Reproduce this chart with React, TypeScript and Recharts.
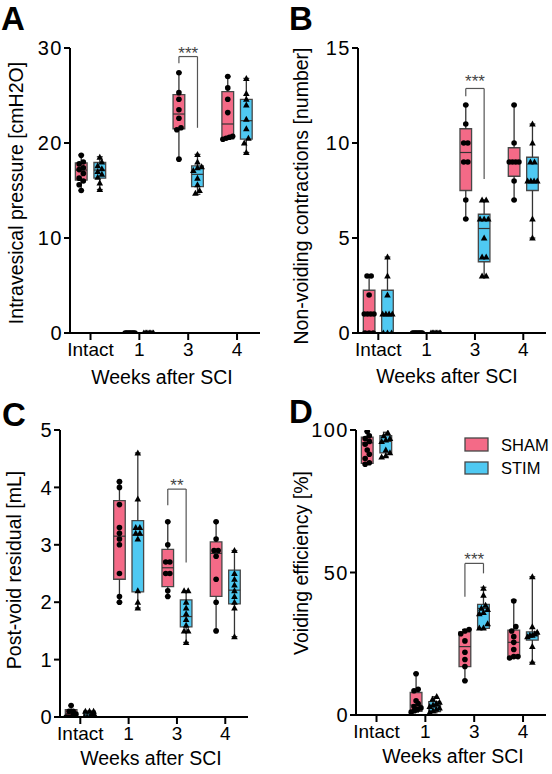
import React from 'react';
import { ScatterChart, Scatter, XAxis, YAxis, ReferenceArea, ReferenceLine, ReferenceDot } from 'recharts';

const FONT = '"Liberation Sans", Arial, Helvetica, sans-serif';
const SHAM_FILL = '#F46A87';
const STIM_FILL = '#4FC9F2';
const BOX_STROKE = '#474747';
const WHISKER = '#333333';

const CATEGORIES = ['Intact', '1', '3', '4'];

// box stats per category: [min, q1, median, q3, max]
const PRESSURE_SHAM_BOX = [[15.0, 16.1, 17.15, 17.9, 18.75], [0, 0, 0, 0, 0], [18.3, 21.5, 23.05, 25.1, 27.4], [20.4, 20.45, 22.0, 25.4, 27.0]];
const PRESSURE_STIM_BOX = [[15.1, 16.3, 17.15, 17.95, 18.55], [0, 0, 0, 0, 0], [14.6, 15.4, 16.7, 17.6, 18.8], [19.0, 20.4, 22.35, 24.6, 26.8]];
const PRESSURE_SHAM_PTS = [[18.7, 18.0, 17.8, 17.4, 17.2, 16.8, 16.3, 16.0, 15.6, 15.0], [0, 0, 0, 0, 0, 0, 0, 0], [27.4, 25.3, 24.6, 23.5, 22.6, 21.6, 21.4, 18.3], [27.0, 25.8, 24.6, 23.2, 20.7, 20.6, 20.5, 20.4]];
const PRESSURE_STIM_PTS = [[18.5, 18.0, 17.6, 17.3, 17.0, 16.7, 16.4, 15.8, 15.1], [0, 0, 0, 0, 0, 0, 0, 0], [18.8, 18.0, 17.5, 17.4, 17.1, 16.3, 15.6, 15.0, 14.7], [26.8, 25.2, 24.6, 24.0, 22.5, 21.5, 20.5, 20.0, 19.0]];
const PRESSURE_BRACKET = [29.1, 28.4, 21.6, 29.8]; // top, left end, right end, stars

const NVC_SHAM_BOX = [[0, 0, 1, 2.25, 3], [0, 0, 0, 0, 0], [6, 7.5, 9.5, 10.75, 12], [7, 8.25, 9, 9.75, 12]];
const NVC_STIM_BOX = [[0, 0, 1, 2.25, 4], [0, 0, 0, 0, 0], [3, 3.75, 5.5, 6.25, 7], [5, 7.5, 8, 9.25, 11]];
const NVC_SHAM_PTS = [[3, 3, 2, 1, 1, 1, 1, 0, 0, 0], [0, 0, 0, 0, 0, 0, 0, 0], [12, 11, 10, 10, 9, 9, 7, 6], [12, 10, 9, 9, 9, 9, 8, 7]];
const NVC_STIM_PTS = [[4, 3, 2, 1, 1, 1, 1, 0, 0, 0], [0, 0, 0, 0, 0, 0, 0, 0], [7, 7, 6, 6, 6, 5, 4, 4, 3, 3], [11, 10, 9, 9, 8, 8, 8, 8, 6, 5]];
const NVC_BRACKET = [12.87, 12.46, 8.1, 13.45];

const PVR_SHAM_BOX = [[0, 0, 0.06, 0.13, 0.2], [2.0, 2.4, 3.15, 3.77, 4.1], [2.1, 2.27, 2.6, 2.92, 3.4], [1.5, 2.1, 2.85, 3.05, 3.4]];
const PVR_STIM_BOX = [[0, 0, 0.05, 0.1, 0.1], [1.9, 2.18, 3.17, 3.42, 4.6], [1.3, 1.57, 1.75, 2.04, 2.2], [1.4, 1.97, 2.21, 2.56, 2.9]];
const PVR_SHAM_PTS = [[0.2, 0.1, 0.1, 0.05, 0.05, 0, 0, 0], [4.1, 4.0, 3.7, 3.3, 3.2, 3.1, 3.0, 2.5, 2.1, 2.0], [3.4, 3.0, 2.7, 2.7, 2.5, 2.5, 2.2, 2.1], [3.4, 3.1, 2.9, 2.9, 2.8, 2.4, 2.0, 1.5]];
const PVR_STIM_PTS = [[0.1, 0.1, 0.1, 0.05, 0.05, 0, 0, 0], [4.6, 3.8, 3.3, 3.3, 3.2, 3.2, 3.1, 2.2, 2.0, 1.9], [2.2, 2.2, 2.0, 1.9, 1.8, 1.7, 1.6, 1.5, 1.5, 1.3], [2.9, 2.5, 2.4, 2.3, 2.2, 2.1, 2.0, 1.9, 1.4]];
const PVR_BRACKET = [3.97, 3.69, 2.69, 4.1];

const VE_SHAM_BOX = [[88, 88.3, 95.5, 97.5, 99.5], [1.0, 1.3, 3.5, 7.9, 14.5], [12, 17, 24, 29.2, 30], [20, 20.3, 25.5, 29.8, 40.3]];
const VE_STIM_BOX = [[90.6, 92, 96, 98, 99.2], [0.8, 1.2, 2.9, 4.7, 6.4], [30.2, 30.4, 37.4, 38.8, 44.8], [18.5, 26.3, 27.8, 29.2, 48.5]];
const VE_SHAM_PTS = [[99.5, 98, 97, 96, 95, 93, 91.5, 90, 88.5, 88], [14.5, 9, 8.5, 5, 4, 3, 2.5, 2, 1.5, 1], [30, 29.5, 28.5, 26, 22, 19.5, 17, 12], [40, 31, 29.5, 27.5, 25.5, 23, 20.5, 20.5, 20]];
const VE_STIM_PTS = [[99, 98, 97, 96.5, 96, 93, 92, 91, 90.5], [6.5, 5.5, 4.5, 4, 3.5, 3, 2.5, 2, 1.5, 1], [44.5, 42, 38.5, 37.5, 37, 36, 35.5, 32, 30.5, 30.5], [48.5, 31, 29, 28.5, 28, 28, 27.5, 24, 18.5]];
const VE_BRACKET = [53.2, 41.5, 49.7, 56.1];

const X_DOMAIN: [number, number] = [-0.42, 3.47];
const OFFSET = 0.19;
const BOX_W = 0.24;
const CAP_W = 0.12;

// spread near-equal values sideways so they don't sit on top of each other
function spread(groups: number[][], sign: number, yMax: number) {
  const out: { x: number; y: number }[] = [];
  const tol = yMax * 0.018;
  groups.forEach((vals, ci) => {
    const cx = ci + sign * OFFSET;
    const sorted = [...vals].sort((a, b) => a - b);
    let i = 0;
    while (i < sorted.length) {
      let j = i;
      while (j + 1 < sorted.length && sorted[j + 1] - sorted[i] < tol) j++;
      const n = j - i + 1;
      const step = n > 1 ? Math.min(0.085, 0.2 / (n - 1)) : 0;
      for (let k = 0; k < n; k++) out.push({ x: cx + (k - (n - 1) / 2) * step, y: sorted[i + k] });
      i = j + 1;
    }
  });
  return out;
}

const seg = (key: string, x1: number, y1: number, x2: number, y2: number, color = WHISKER, w = 1.3) => (
  <ReferenceLine key={key} segment={[{ x: x1, y: y1 }, { x: x2, y: y2 }]} stroke={color} strokeWidth={w} ifOverflow="visible" />
);

function boxes(stats: number[][], sign: number, fill: string, tag: string) {
  const els: React.ReactNode[] = [];
  stats.forEach(([mn, q1, med, q3, mx], ci) => {
    const cx = ci + sign * OFFSET;
    els.push(seg(`${tag}lw${ci}`, cx, mn, cx, q1));
    els.push(seg(`${tag}uw${ci}`, cx, q3, cx, mx));
    els.push(seg(`${tag}lc${ci}`, cx - CAP_W / 2, mn, cx + CAP_W / 2, mn));
    els.push(seg(`${tag}uc${ci}`, cx - CAP_W / 2, mx, cx + CAP_W / 2, mx));
    els.push(
      <ReferenceArea key={`${tag}b${ci}`} x1={cx - BOX_W / 2} x2={cx + BOX_W / 2} y1={q1} y2={q3}
        fill={fill} fillOpacity={1} stroke={BOX_STROKE} strokeWidth={1.3} ifOverflow="visible" />
    );
    els.push(seg(`${tag}m${ci}`, cx - BOX_W / 2, med, cx + BOX_W / 2, med, '#333', 1.2));
  });
  return els;
}

const Dot = (p: any) => <circle cx={p.cx} cy={p.cy} r={2.8} fill="#000" />;
const Tri = (p: any) => (
  <path d={`M${p.cx},${p.cy - 3.5} L${p.cx + 3.3},${p.cy + 2.5} L${p.cx - 3.3},${p.cy + 2.5} Z`} fill="#000" />
);

interface PanelProps {
  left: number; top: number; width: number; height: number;
  yWidth: number; mTop: number; mRight: number; xHeight: number;
  yMax: number; yTicks: number[];
  shamBox: number[][]; stimBox: number[][]; shamPts: number[][]; stimPts: number[][];
  bracket: number[]; stars: string; bracketCat: number;
}

function Panel(p: PanelProps) {
  const [bTop, bLeft, bRight, bStars] = p.bracket;
  const xs = p.bracketCat - OFFSET;
  const xt = p.bracketCat + OFFSET;
  return (
    <div style={{ position: 'absolute', left: p.left, top: p.top }}>
      <ScatterChart width={p.width} height={p.height} margin={{ top: p.mTop, right: p.mRight, bottom: 0, left: 0 }}>
        <XAxis type="number" dataKey="x" domain={X_DOMAIN} ticks={[0, 1, 2, 3]} interval={0}
          tickFormatter={(v: number) => CATEGORIES[v]} height={p.xHeight} tickSize={7} tickMargin={3}
          axisLine={{ stroke: '#000', strokeWidth: 2 }} tickLine={{ stroke: '#000', strokeWidth: 2 }}
          tick={{ fontSize: 19, fill: '#000', fontFamily: FONT }} allowDataOverflow />
        <YAxis type="number" dataKey="y" domain={[0, p.yMax]} ticks={p.yTicks} interval={0} width={p.yWidth}
          tickSize={6} tickMargin={1}
          axisLine={{ stroke: '#000', strokeWidth: 2 }} tickLine={{ stroke: '#000', strokeWidth: 2 }}
          tick={{ fontSize: 20, fill: '#000', fontFamily: FONT, letterSpacing: 1.5 }} allowDataOverflow />
        {boxes(p.shamBox, -1, SHAM_FILL, 'sh')}
        {boxes(p.stimBox, 1, STIM_FILL, 'st')}
        {seg('bl', xs, bLeft, xs, bTop, '#555', 1.2)}
        {seg('bt', xs, bTop, xt, bTop, '#555', 1.2)}
        {seg('br', xt, bTop, xt, bRight, '#555', 1.2)}
        <ReferenceDot x={p.bracketCat} y={bStars} ifOverflow="visible"
          shape={(d: any) => (
            <text x={d.cx} y={d.cy + 9.5} textAnchor="middle" fontSize={17} fill="#444" fontFamily={FONT}>{p.stars}</text>
          )} />
        <Scatter name="SHAM" data={spread(p.shamPts, -1, p.yMax)} shape={Dot} isAnimationActive={false} />
        <Scatter name="STIM" data={spread(p.stimPts, 1, p.yMax)} shape={Tri} isAnimationActive={false} />
      </ScatterChart>
    </div>
  );
}

export default function App() {
  return (
    <div style={{ position: 'absolute', left: 0, top: 0, width: 552, height: 774, background: '#fff', fontFamily: FONT }}>
      <Panel left={0} top={0} width={276} height={390} yWidth={70} mTop={48} mRight={16} xHeight={57}
        yMax={30} yTicks={[0, 10, 20, 30]} shamBox={PRESSURE_SHAM_BOX} stimBox={PRESSURE_STIM_BOX}
        shamPts={PRESSURE_SHAM_PTS} stimPts={PRESSURE_STIM_PTS} bracket={PRESSURE_BRACKET} stars="***" bracketCat={2} />
      <Panel left={276} top={0} width={276} height={390} yWidth={82} mTop={48} mRight={6} xHeight={57}
        yMax={15} yTicks={[0, 5, 10, 15]} shamBox={NVC_SHAM_BOX} stimBox={NVC_STIM_BOX}
        shamPts={NVC_SHAM_PTS} stimPts={NVC_STIM_PTS} bracket={NVC_BRACKET} stars="***" bracketCat={2} />
      <Panel left={0} top={390} width={276} height={384} yWidth={60} mTop={40} mRight={28} xHeight={57}
        yMax={5} yTicks={[0, 1, 2, 3, 4, 5]} shamBox={PVR_SHAM_BOX} stimBox={PVR_STIM_BOX}
        shamPts={PVR_SHAM_PTS} stimPts={PVR_STIM_PTS} bracket={PVR_BRACKET} stars="**" bracketCat={2} />
      <Panel left={276} top={390} width={276} height={384} yWidth={80} mTop={40} mRight={6} xHeight={59}
        yMax={100} yTicks={[0, 50, 100]} shamBox={VE_SHAM_BOX} stimBox={VE_STIM_BOX}
        shamPts={VE_SHAM_PTS} stimPts={VE_STIM_PTS} bracket={VE_BRACKET} stars="***" bracketCat={2} />
      <svg width={552} height={774} style={{ position: 'absolute', left: 0, top: 0, pointerEvents: 'none' }}
        fontFamily={FONT}>
        <g fontWeight="bold" fontSize={33} fill="#000">
          <text x={1} y={30}>A</text>
          <text x={289} y={30}>B</text>
          <text x={2} y={426}>C</text>
          <text x={289} y={423}>D</text>
        </g>
        <g fontSize={19.5} fill="#000" textAnchor="middle">
          <text x={15.5} y={193} dominantBaseline="central" transform="rotate(-90 15.5 193)">Intravesical pressure [cmH2O]</text>
          <text x={301} y={196} dominantBaseline="central" transform="rotate(-90 301 196)">Non-voiding contractions [number]</text>
          <text x={14} y={570} dominantBaseline="central" transform="rotate(-90 14 570)">Post-void residual [mL]</text>
          <text x={301} y={563} dominantBaseline="central" transform="rotate(-90 301 563)">Voiding efficiency [%]</text>
          <text x={162} y={384}>Weeks after SCI</text>
          <text x={447} y={383}>Weeks after SCI</text>
          <text x={151} y={765}>Weeks after SCI</text>
          <text x={453} y={763}>Weeks after SCI</text>
        </g>
        <rect x={465} y={438} width={23} height={13} fill={SHAM_FILL} stroke={BOX_STROKE} strokeWidth={1.3} />
        <rect x={465} y={462} width={23} height={12} fill={STIM_FILL} stroke={BOX_STROKE} strokeWidth={1.3} />
        <text x={501} y={450.5} fontSize={16.5} fill="#000">SHAM</text>
        <text x={501} y={474} fontSize={16.5} fill="#000">STIM</text>
      </svg>
    </div>
  );
}
